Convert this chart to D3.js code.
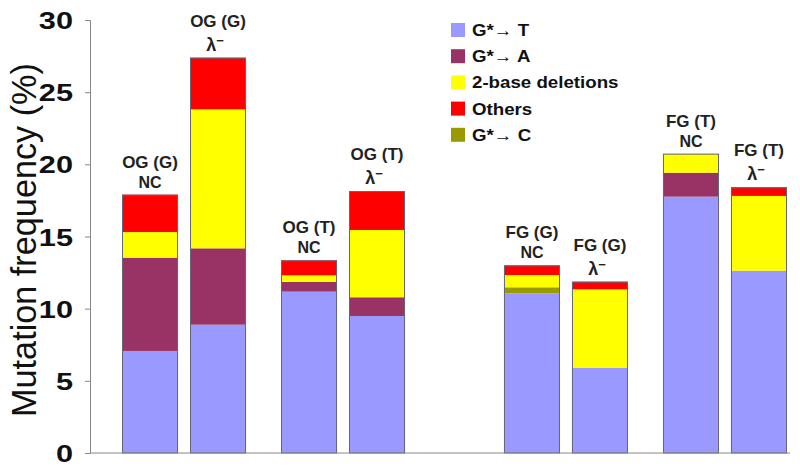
<!DOCTYPE html>
<html>
<head>
<meta charset="utf-8">
<script src="https://cdn.jsdelivr.net/npm/d3@7"></script>
<style>
  html, body { margin: 0; padding: 0; background: #fff; }
  svg { display: block; font-family: "Liberation Sans", Arial, sans-serif; }
</style>
</head>
<body>
<svg id="chart" width="800" height="474"></svg>
<script>
// ---- data ----
const families = ["OG", "FG"];
const contexts = ["G", "T"];
const conditions = ["NC", "λ"];
const barFamily    = ["OG", "OG", "OG", "OG", "FG", "FG", "FG", "FG"];
const barContext   = ["G", "G", "T", "T", "G", "G", "T", "T"];
const barCondition = ["NC", "λ", "NC", "λ", "NC", "λ", "NC", "λ"];

const gToT      = [7.07, 8.89, 11.18, 9.49, 11.06, 5.91, 17.76, 12.63];
const gToA      = [6.46, 5.29, 0.67, 1.30, 0, 0, 1.66, 0];
const gToC      = [0, 0, 0, 0, 0.42, 0, 0, 0];
const deletions = [1.78, 9.63, 0.46, 4.66, 0.85, 5.43, 1.32, 5.18];
const others    = [2.59, 3.58, 1.04, 2.70, 0.67, 0.53, 0, 0.60];

const seriesNames = ["G*→ T", "G*→ A", "G*→ C", "2-base deletions", "Others"];
const legendOrder = ["G*→ T", "G*→ A", "2-base deletions", "Others", "G*→ C"];
const yTicks = [0, 5, 10, 15, 20, 25, 30];
const yLabel = "Mutation frequency (%)";

// ---- build table ----
const seriesValues = [gToT, gToA, gToC, deletions, others];
const table = barFamily.map((f, i) => {
  const row = { family: f, context: barContext[i], condition: barCondition[i] };
  seriesNames.forEach((s, k) => row[s] = seriesValues[k][i]);
  return row;
});

const colors = {
  "G*→ T": "#9999ff",
  "G*→ A": "#993366",
  "G*→ C": "#9a9a00",
  "2-base deletions": "#ffff00",
  "Others": "#ff0000"
};

const svg = d3.select("#chart");

// ---- scales ----
const y = d3.scaleLinear().domain([0, 30]).range([453, 20]);
const xFamily = d3.scaleBand().domain(families).range([122, 787]).paddingInner(0.259).paddingOuter(0);
const xContext = d3.scaleBand().domain(contexts).range([0, xFamily.bandwidth()]).paddingInner(0.22).paddingOuter(0);
const xCond = d3.scaleBand().domain(conditions).range([0, xContext.bandwidth()]).paddingInner(0.176).paddingOuter(0);
const xPos = d => xFamily(d.family) + xContext(d.context) + xCond(d.condition);
const bw = xCond.bandwidth();

// ---- stack ----
const stack = d3.stack().keys(seriesNames);
const stacked = stack(table);

svg.append("g").selectAll("g")
  .data(stacked)
  .join("g")
  .attr("fill", s => colors[s.key])
  .selectAll("rect")
  .data(s => s)
  .join("rect")
  .attr("x", d => xPos(d.data))
  .attr("width", bw)
  .attr("y", d => y(d[1]))
  .attr("height", d => y(d[0]) - y(d[1]));

// outlines
svg.append("g").selectAll("rect")
  .data(table)
  .join("rect")
  .attr("x", d => xPos(d) + 0.5)
  .attr("width", bw - 1)
  .attr("y", d => y(d3.sum(seriesNames, s => d[s])) + 0.5)
  .attr("height", d => y(0) - y(d3.sum(seriesNames, s => d[s])) - 0.5)
  .attr("fill", "none")
  .attr("stroke", "#66667a")
  .attr("stroke-width", 1);

// ---- axes ----
const sx = 1.28;
const yAxis = d3.axisLeft(y).tickValues(yTicks).tickSize(5).tickFormat(d3.format("d"));
const gy = svg.append("g").attr("transform", "translate(90,0)").call(yAxis);
gy.select(".domain").attr("stroke", "#888");
gy.selectAll(".tick line").attr("stroke", "#888");
gy.selectAll(".tick text")
  .attr("font-size", 24).attr("font-weight", "bold").attr("fill", "#111")
  .attr("font-family", "'Liberation Sans', Arial, sans-serif")
  .attr("x", -17 / sx)
  .attr("dy", "0.36em")
  .attr("transform", `scale(${sx},1)`);

svg.append("line")
  .attr("x1", 90).attr("x2", 790)
  .attr("y1", y(0)).attr("y2", y(0))
  .attr("stroke", "#888").attr("stroke-width", 1);

const yl = svg.append("text")
  .attr("transform", `translate(36,240) rotate(-90)`)
  .attr("text-anchor", "middle")
  .attr("font-size", 30)
  .attr("fill", "#111")
  .text(yLabel);
const natural = yl.node().getComputedTextLength();
if (natural > 0) yl.attr("font-size", 30 * 354 / natural);

// ---- bar labels ----
const lab = svg.append("g").attr("font-weight", "bold").attr("fill", "#222").attr("text-anchor", "middle");
table.forEach(d => {
  const top = y(d3.sum(seriesNames, s => d[s]));
  const cx = xPos(d) + bw / 2;
  const isNC = d.condition === "NC";
  lab.append("text")
    .attr("x", cx).attr("y", top - (isNC ? 27 : 31))
    .attr("font-size", 17)
    .text(`${d.family} (${d.context})`);
  if (isNC) {
    lab.append("text").attr("x", cx).attr("y", top - 7).attr("font-size", 16).text("NC");
  } else {
    const t = lab.append("text").attr("x", cx - 3).attr("y", top - 7).attr("font-size", 18);
    t.append("tspan").text("λ");
    t.append("tspan").attr("dy", -6).attr("font-size", 13).text("−");
  }
});

// ---- legend ----
const lg = svg.append("g").attr("transform", "translate(451,23)");
const items = lg.selectAll("g").data(legendOrder).join("g")
  .attr("transform", (d, i) => `translate(0,${i * 26.2})`);
items.append("rect").attr("width", 14).attr("height", 14).attr("fill", d => colors[d]);
items.append("text")
  .attr("transform", "translate(21,13) scale(1.1,1)")
  .attr("font-size", 17).attr("font-weight", "bold").attr("fill", "#111")
  .text(d => d);
</script>
</body>
</html>
